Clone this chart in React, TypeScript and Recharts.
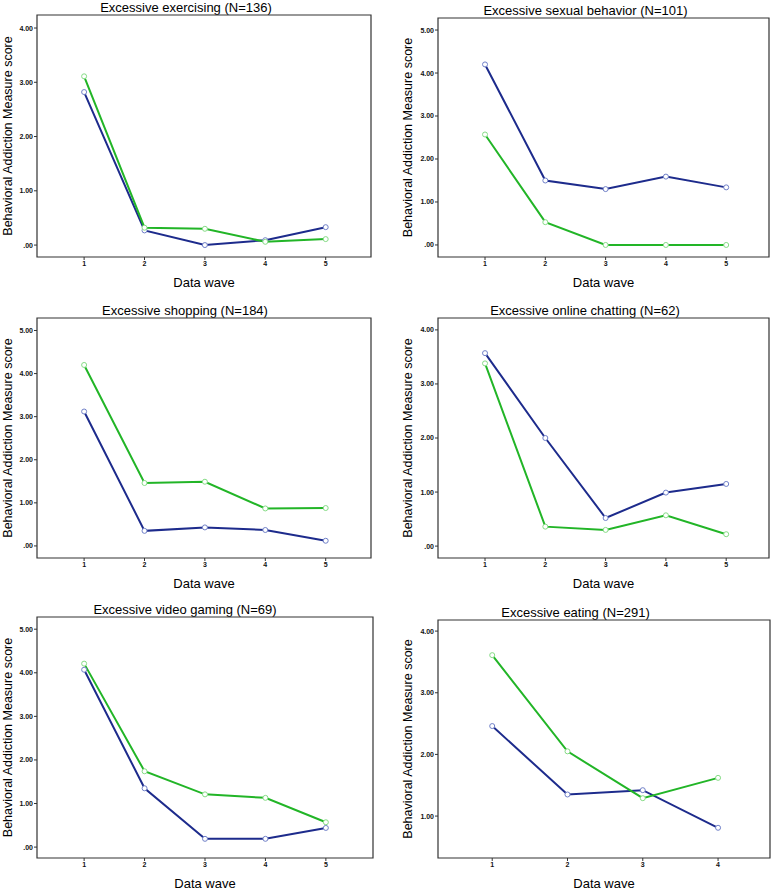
import React from "react";
import { LineChart, Line, XAxis, YAxis, ReferenceArea } from "recharts";

// data waves
const waves5 = [1, 2, 3, 4, 5];
const waves4 = [1, 2, 3, 4];

// blue = first group, green = second group
const exercisingBlue = [2.82, 0.27, 0.0, 0.09, 0.33];
const exercisingGreen = [3.11, 0.32, 0.3, 0.06, 0.11];
const sexualBlue = [4.2, 1.5, 1.3, 1.59, 1.34];
const sexualGreen = [2.57, 0.53, 0.0, 0.0, 0.0];
const shoppingBlue = [3.12, 0.35, 0.43, 0.37, 0.12];
const shoppingGreen = [4.2, 1.46, 1.49, 0.87, 0.88];
const chattingBlue = [3.57, 2.0, 0.52, 0.99, 1.15];
const chattingGreen = [3.38, 0.36, 0.3, 0.57, 0.22];
const gamingBlue = [4.07, 1.35, 0.19, 0.19, 0.44];
const gamingGreen = [4.21, 1.74, 1.21, 1.13, 0.57];
const eatingBlue = [2.46, 1.35, 1.42, 0.81];
const eatingGreen = [3.61, 2.05, 1.29, 1.62];

const yTicks4 = [0, 1, 2, 3, 4];
const yTicks5 = [0, 1, 2, 3, 4, 5];
const yTicksEating = [1, 2, 3, 4];

const BLUE = "#1d2b8c";
const BLUE_DOT = "#7080c8";
const GREEN = "#22b527";
const GREEN_DOT = "#86dc86";
const FONT = "'Liberation Sans', Arial, sans-serif";

const fmt = (v: number) => v.toFixed(2).replace(/^0\./, ".");

interface PanelProps {
  title: string;
  waves: number[];
  blue: number[];
  green: number[];
  yTicks: number[];
  x0: number;
  y0: number;
  box: { l: number; t: number; r: number; b: number };
  labelCx: number;
  titleCx: number;
  xDomain: [number, number];
  yDomain: [number, number];
}

const Panel: React.FC<PanelProps> = ({
  title, waves, blue, green, yTicks, x0, y0, box, labelCx, titleCx, xDomain, yDomain,
}) => {
  const data = waves.map((w, i) => ({ wave: w, blue: blue[i], green: green[i] }));
  const W = 389;
  const xAxisH = 30;
  const H = box.b - y0 + xAxisH + 4;
  const tickStyle = { fontSize: 7, fill: "#111", fontFamily: FONT, fontWeight: "bold" as const };
  return (
    <>
      <div
        style={{
          position: "absolute",
          left: titleCx - 150,
          width: 300,
          top: box.t - 15,
          textAlign: "center",
          fontFamily: FONT,
          fontSize: 13,
          lineHeight: "15px",
          color: "#000",
          whiteSpace: "nowrap",
        }}
      >
        {title}
      </div>
      <div style={{ position: "absolute", left: x0, top: y0 }}>
        <LineChart
          width={W}
          height={H}
          data={data}
          margin={{ top: box.t - y0, left: labelCx - x0, right: x0 + W - box.r, bottom: 4 }}
        >
          <ReferenceArea
            x1={xDomain[0]}
            x2={xDomain[1]}
            y1={yDomain[0]}
            y2={yDomain[1]}
            fill="none"
            stroke="#333"
            strokeWidth={1.2}
          />
          <XAxis
            dataKey="wave"
            type="number"
            domain={xDomain}
            ticks={waves}
            allowDataOverflow
            height={xAxisH}
            axisLine={false}
            stroke="#222"
            tickSize={3}
            tickMargin={1}
            tickLine={{ stroke: "#333" }}
            tick={tickStyle}
            label={{ value: "Data wave", position: "insideBottom", offset: 0, fontSize: 13, fill: "#000", fontFamily: FONT }}
          />
          <YAxis
            type="number"
            domain={yDomain}
            ticks={yTicks}
            allowDataOverflow
            width={box.l - labelCx}
            axisLine={false}
            stroke="#222"
            tickSize={3}
            tickMargin={1}
            tickLine={{ stroke: "#333" }}
            tickFormatter={fmt}
            tick={tickStyle}
            label={{
              value: "Behavioral Addiction Measure score",
              angle: -90,
              position: "insideLeft",
              offset: 0,
              fontSize: 12.5,
              fill: "#000",
              fontFamily: FONT,
              style: { textAnchor: "middle" },
            }}
          />
          <Line
            type="linear"
            dataKey="blue"
            stroke={BLUE}
            strokeWidth={2}
            dot={{ r: 2.5, stroke: BLUE_DOT, strokeWidth: 1, fill: "#fff" }}
            activeDot={false}
            isAnimationActive={false}
          />
          <Line
            type="linear"
            dataKey="green"
            stroke={GREEN}
            strokeWidth={2}
            dot={{ r: 2.5, stroke: GREEN_DOT, strokeWidth: 1, fill: "#fff" }}
            activeDot={false}
            isAnimationActive={false}
          />
        </LineChart>
      </div>
    </>
  );
};

export default function App() {
  return (
    <div style={{ position: "absolute", left: 0, top: 0, width: 778, height: 893, background: "#fff" }}>
      <Panel
        title="Excessive exercising (N=136)"
        waves={waves5} blue={exercisingBlue} green={exercisingGreen} yTicks={yTicks4}
        x0={0} y0={0} box={{ l: 37, t: 15, r: 371, b: 257 }} labelCx={8} titleCx={186}
        xDomain={[0.22, 5.75]} yDomain={[-0.22, 4.24]}
      />
      <Panel
        title="Excessive sexual behavior (N=101)"
        waves={waves5} blue={sexualBlue} green={sexualGreen} yTicks={yTicks5}
        x0={389} y0={0} box={{ l: 438, t: 18, r: 769, b: 257 }} labelCx={407.5} titleCx={585.5}
        xDomain={[0.22, 5.71]} yDomain={[-0.28, 5.28]}
      />
      <Panel
        title="Excessive shopping (N=184)"
        waves={waves5} blue={shoppingBlue} green={shoppingGreen} yTicks={yTicks5}
        x0={0} y0={295} box={{ l: 37, t: 318, r: 371, b: 558 }} labelCx={8} titleCx={185}
        xDomain={[0.22, 5.75]} yDomain={[-0.28, 5.29]}
      />
      <Panel
        title="Excessive online chatting (N=62)"
        waves={waves5} blue={chattingBlue} green={chattingGreen} yTicks={yTicks4}
        x0={389} y0={295} box={{ l: 438, t: 318, r: 769, b: 558 }} labelCx={407.5} titleCx={585}
        xDomain={[0.22, 5.71]} yDomain={[-0.22, 4.22]}
      />
      <Panel
        title="Excessive video gaming (N=69)"
        waves={waves5} blue={gamingBlue} green={gamingGreen} yTicks={yTicks5}
        x0={0} y0={590} box={{ l: 37, t: 617, r: 373, b: 858 }} labelCx={8} titleCx={185}
        xDomain={[0.22, 5.78]} yDomain={[-0.25, 5.28]}
      />
      <Panel
        title="Excessive eating (N=291)"
        waves={waves4} blue={eatingBlue} green={eatingGreen} yTicks={yTicksEating}
        x0={389} y0={590} box={{ l: 438, t: 620, r: 770, b: 858 }} labelCx={407.5} titleCx={575.5}
        xDomain={[0.28, 4.69]} yDomain={[0.32, 4.18]}
      />
    </div>
  );
}
